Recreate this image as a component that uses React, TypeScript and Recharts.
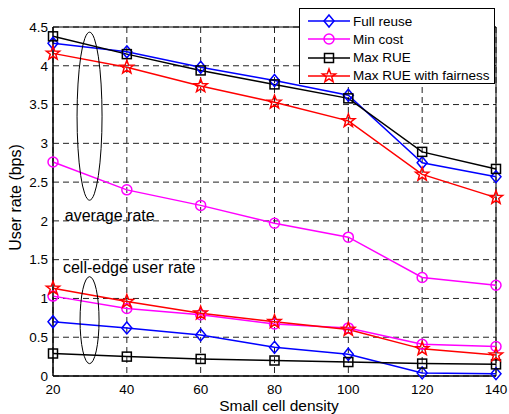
import React from "react";
import {
	CartesianGrid,
	Line,
	LineChart,
	ReferenceArea,
	ReferenceDot,
	XAxis,
	YAxis,
} from "recharts";

// x 軸: small cell density
const densities = [20, 40, 60, 80, 100, 120, 140];

// average rate
const fullReuseAvg = [4.29, 4.18, 3.98, 3.81, 3.62, 2.75, 2.57];
const minCostAvg = [2.76, 2.4, 2.2, 1.97, 1.79, 1.27, 1.17];
const maxRueAvg = [4.38, 4.15, 3.94, 3.76, 3.58, 2.89, 2.67];
const maxRueFairAvg = [4.16, 3.98, 3.74, 3.53, 3.29, 2.6, 2.3];

// cell-edge user rate
const fullReuseEdge = [0.7, 0.62, 0.53, 0.37, 0.28, 0.04, 0.03];
const minCostEdge = [1.03, 0.87, 0.79, 0.67, 0.62, 0.41, 0.38];
const maxRueEdge = [0.29, 0.25, 0.22, 0.2, 0.18, 0.16, 0.15];
const maxRueFairEdge = [1.13, 0.96, 0.81, 0.7, 0.6, 0.35, 0.27];

const yTicks = [0, 0.5, 1, 1.5, 2, 2.5, 3, 3.5, 4, 4.5];

const FONT = "'Liberation Sans', Arial, Helvetica, sans-serif";

const data = densities.map((d, i) => ({
	density: d,
	fullAvg: fullReuseAvg[i],
	minAvg: minCostAvg[i],
	rueAvg: maxRueAvg[i],
	fairAvg: maxRueFairAvg[i],
	fullEdge: fullReuseEdge[i],
	minEdge: minCostEdge[i],
	rueEdge: maxRueEdge[i],
	fairEdge: maxRueFairEdge[i],
}));

type MarkerKind = "diamond" | "circle" | "square" | "star";

function Marker({
	kind,
	cx,
	cy,
	color,
}: { kind: MarkerKind; cx: number; cy: number; color: string }) {
	if (cx == null || cy == null) return null;
	const common = { fill: "none", stroke: color, strokeWidth: 1.5 };
	if (kind === "diamond") {
		return (
			<path
				d={`M${cx},${cy - 6}L${cx + 5},${cy}L${cx},${cy + 6}L${cx - 5},${cy}Z`}
				{...common}
			/>
		);
	}
	if (kind === "circle") return <circle cx={cx} cy={cy} r={5} {...common} />;
	if (kind === "square")
		return <rect x={cx - 4.5} y={cy - 4.5} width={9} height={9} {...common} />;
	// star
	const pts: string[] = [];
	for (let k = 0; k < 10; k++) {
		const r = k % 2 === 0 ? 7 : 2.9;
		const a = -Math.PI / 2 + (k * Math.PI) / 5;
		pts.push(`${cx + r * Math.cos(a)},${cy + r * Math.sin(a)}`);
	}
	return <polygon points={pts.join(" ")} {...common} />;
}

const seriesList: {
	name: string;
	color: string;
	kind: MarkerKind;
	keys: string[];
}[] = [
	{ name: "Full reuse", color: "#0000ff", kind: "diamond", keys: ["fullAvg", "fullEdge"] },
	{ name: "Min cost", color: "#ff00ff", kind: "circle", keys: ["minAvg", "minEdge"] },
	{ name: "Max RUE", color: "#000000", kind: "square", keys: ["rueAvg", "rueEdge"] },
	{ name: "Max RUE with fairness", color: "#ff0000", kind: "star", keys: ["fairAvg", "fairEdge"] },
];

function YTitle(props: any) {
	const vb = props.viewBox || { x: 0, y: 0, width: 0, height: 0 };
	const x = 15.5;
	const y = vb.y + vb.height / 2 - 4;
	return (
		<text
			x={x}
			y={y}
			transform={`rotate(-90 ${x} ${y})`}
			textAnchor="middle"
			dominantBaseline="central"
			fontSize={16}
			fontFamily={FONT}
			fill="#000"
		>
			User rate (bps)
		</text>
	);
}

function XTitle(props: any) {
	const vb = props.viewBox || { x: 0, y: 0, width: 0, height: 0 };
	return (
		<text
			x={vb.x + vb.width / 2 + 4.5}
			y={vb.y + 35}
			textAnchor="middle"
			fontSize={15.5}
			fontFamily={FONT}
			fill="#000"
		>
			Small cell density
		</text>
	);
}

function MatlabLegend() {
	return (
		<div
			style={{
				position: "absolute",
				left: 299,
				top: 8,
				width: 196,
				height: 76,
				boxSizing: "border-box",
				border: "1px solid #000",
				background: "#fff",
				fontFamily: FONT,
				fontSize: 13.5,
			}}
		>
			{seriesList.map((s, i) => (
				<div
					key={s.name}
					style={{
						position: "absolute",
						left: 0,
						top: 3 + i * 18.3,
						height: 18,
						display: "flex",
						alignItems: "center",
					}}
				>
					<svg width={53} height={18} style={{ display: "block" }}>
						<line x1={8} x2={50} y1={9} y2={9} stroke={s.color} strokeWidth={1.5} />
						<Marker kind={s.kind} cx={29} cy={9} color={s.color} />
					</svg>
					<span style={{ color: "#000", whiteSpace: "nowrap" }}>{s.name}</span>
				</div>
			))}
		</div>
	);
}

export default function App() {
	return (
		<div
			style={{
				position: "absolute",
				left: 0,
				top: 0,
				width: 509,
				height: 414,
				background: "#fff",
			}}
		>
			<LineChart
				width={509}
				height={414}
				data={data}
				margin={{ top: 27, right: 13, left: 0, bottom: 0 }}
				style={{ fontFamily: FONT }}
			>
				<CartesianGrid stroke="#222" strokeDasharray="6 4" />
				<XAxis
					dataKey="density"
					type="number"
					domain={[20, 140]}
					ticks={densities}
					height={38}
					tickLine={false}
					tickSize={3}
					tickMargin={5}
					axisLine={{ stroke: "#000" }}
					tick={{ fontSize: 13.5, fill: "#000", fontFamily: FONT }}
					label={<XTitle />}
				/>
				<YAxis
					type="number"
					domain={[0, 4.5]}
					ticks={yTicks}
					width={53}
					tickLine={false}
					tickSize={3}
					tickMargin={2}
					axisLine={{ stroke: "#000" }}
					tick={{ fontSize: 13.5, fill: "#000", fontFamily: FONT }}
					label={<YTitle />}
				/>
				<ReferenceArea
					x1={20}
					x2={140}
					y1={0}
					y2={4.5}
					fill="none"
					fillOpacity={0}
					stroke="#000"
					strokeWidth={1}
				/>

				{/* 注釈の楕円とテキスト */}
				<ReferenceDot
					x={29.9}
					y={3.35}
					shape={(p: any) => (
						<ellipse cx={p.cx} cy={p.cy} rx={12.5} ry={84} fill="none" stroke="#000" strokeWidth={1} />
					)}
				/>
				<ReferenceDot
					x={29.9}
					y={0.72}
					shape={(p: any) => (
						<ellipse cx={p.cx} cy={p.cy} rx={9.5} ry={43.5} fill="none" stroke="#000" strokeWidth={1} />
					)}
				/>
				<ReferenceDot
					x={23.2}
					y={2.07}
					shape={(p: any) => (
						<text x={p.cx} y={p.cy} dominantBaseline="central" fontSize={16} fontFamily={FONT} fill="#000">
							average rate
						</text>
					)}
				/>
				<ReferenceDot
					x={22.7}
					y={1.4}
					shape={(p: any) => (
						<text x={p.cx} y={p.cy} dominantBaseline="central" fontSize={16} fontFamily={FONT} fill="#000">
							cell-edge user rate
						</text>
					)}
				/>

				{seriesList.flatMap((s) =>
					s.keys.map((k) => (
						<Line
							key={k}
							type="linear"
							dataKey={k}
							stroke={s.color}
							strokeWidth={1.5}
							isAnimationActive={false}
							activeDot={false}
							dot={(p: any) => (
								<Marker key={`${k}-${p.index}`} kind={s.kind} cx={p.cx} cy={p.cy} color={s.color} />
							)}
						/>
					)),
				)}
			</LineChart>
			<MatlabLegend />
		</div>
	);
}
